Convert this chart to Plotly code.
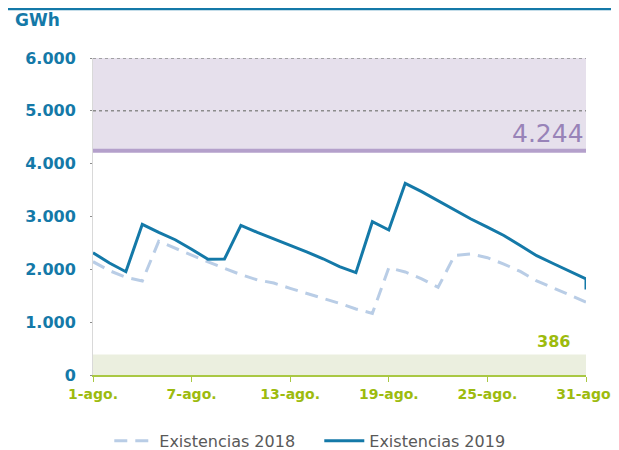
import plotly.graph_objects as go

days_2018 = list(range(1, 32))
vals_2018 = [2145, 1975, 1850, 1780, 2530, 2400, 2260, 2140, 2020, 1900, 1800, 1740, 1640,
             1550, 1450, 1357, 1250, 1167, 2030, 1950, 1820, 1660, 2260, 2290, 2220, 2100,
             1960, 1780, 1650, 1510, 1380]

days_2019 = list(range(1, 32)) + [31]
vals_2019 = [2315, 2120, 1955, 2852, 2700, 2560, 2380, 2190, 2195, 2833, 2700, 2580, 2460,
             2330, 2200, 2050, 1937, 2902, 2745, 3628, 3470, 3300, 3130, 2953, 2800, 2640,
             2450, 2258, 2110, 1960, 1817, 1620]

tick_days = [1, 7, 13, 19, 25, 31]
tick_labels = ["1-ago.", "7-ago.", "13-ago.", "19-ago.", "25-ago.", "31-ago."]
y_ticks = [0, 1000, 2000, 3000, 4000, 5000, 6000]
y_labels = ["0", "1.000", "2.000", "3.000", "4.000", "5.000", "6.000"]

max_level = 4244
min_level = 386
y_top = 6000

BLUE = "#1479a8"
GREEN = "#9dbb0e"
FONT = "DejaVu Sans"

fig = go.Figure()

fig.add_trace(go.Scatter(
    x=days_2018, y=vals_2018, mode="lines", name="Existencias 2018",
    line=dict(color="#b9cde6", width=3, dash="13px,8px"),
))
fig.add_trace(go.Scatter(
    x=days_2019, y=vals_2019, mode="lines", name="Existencias 2019",
    line=dict(color=BLUE, width=3),
))

shapes = [
    dict(type="rect", xref="x", yref="y", x0=1, x1=31, y0=max_level, y1=y_top,
         fillcolor="#e6e0ec", line_width=0, layer="below"),
    dict(type="rect", xref="x", yref="y", x0=1, x1=31, y0=0, y1=min_level,
         fillcolor="#ebefdf", line_width=0, layer="below"),
    dict(type="line", xref="x", yref="y", x0=1, x1=31, y0=max_level, y1=max_level,
         line=dict(color="#b4a0cb", width=4), layer="below"),
    dict(type="line", xref="x", yref="y", x0=1, x1=31, y0=5000, y1=5000,
         line=dict(color="#8c8c8c", width=1.5, dash="dot"), layer="below"),
    dict(type="line", xref="x", yref="y", x0=1, x1=31, y0=6000, y1=6000,
         line=dict(color="#8c8c8c", width=1.5, dash="dot"), layer="below"),
    dict(type="line", xref="paper", yref="paper", x0=-0.2, x1=1.1, y0=1.155, y1=1.155,
         line=dict(color=BLUE, width=3)),
]

annotations = [
    dict(x=31, y=max_level, xref="x", yref="y", text="4.244", showarrow=False,
         xanchor="right", yanchor="bottom", yshift=1,
         font=dict(family=FONT, size=25, color="#9883b8")),
    dict(x=31, y=min_level, xref="x", yref="y", text="<b>386</b>", showarrow=False,
         xanchor="right", yanchor="bottom", xshift=-14, yshift=2,
         font=dict(family=FONT, size=16, color=GREEN)),
    dict(xref="paper", yref="paper", x=-0.162, y=1.12, text="<b>GWh</b>",
         showarrow=False, xanchor="left", yanchor="middle",
         font=dict(family=FONT, size=17, color=BLUE)),
]

fig.update_layout(
    width=611, height=442,
    margin=dict(l=85, r=33, t=50, b=75, autoexpand=False),
    paper_bgcolor="white", plot_bgcolor="white",
    shapes=shapes, annotations=annotations,
    showlegend=True,
    legend=dict(orientation="h", x=0.459, y=-0.208,
                xanchor="center", yanchor="middle",
                font=dict(family=FONT, size=16, color="#595959"),
                itemwidth=40, traceorder="normal", entrywidth=155),
    xaxis=dict(range=[1, 31], tickvals=tick_days, ticktext=tick_labels,
               showgrid=False, zeroline=False, showline=True, linecolor="#a9c843",
               linewidth=1.5, ticks="outside", ticklen=5, tickcolor="#a9c843",
               tickfont=dict(family=FONT, size=14, color=GREEN, weight="bold")),
    yaxis=dict(range=[0, y_top], tickvals=y_ticks, ticktext=y_labels,
               showgrid=False, zeroline=False, showline=True, linecolor="#d9d9d9",
               linewidth=1, ticks="outside", ticklen=2, tickcolor="#8c8c8c",
               ticklabelstandoff=11,
               tickfont=dict(family=FONT, size=16, color=BLUE, weight="bold")),
)

fig.write_html("out.html")
